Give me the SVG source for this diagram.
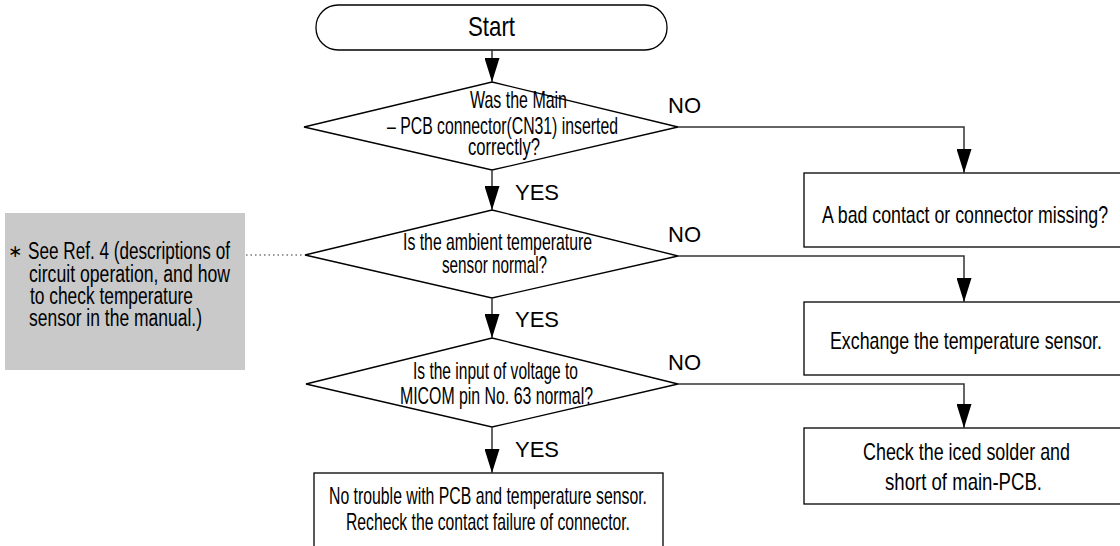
<svg xmlns="http://www.w3.org/2000/svg" width="1120" height="546" viewBox="0 0 1120 546">
<style>
.shape{fill:#fff;stroke:#000;stroke-width:1.3}
.t{font-family:"Liberation Sans",Arial,sans-serif;font-size:24px;fill:#000}
.n{font-family:"Liberation Sans",Arial,sans-serif;font-size:23px;fill:#000}
.lbl{font-family:"Liberation Sans",Arial,sans-serif;font-size:22px;fill:#000}
.con{fill:none;stroke:#333;stroke-width:1.5}
.dot{fill:none;stroke:#333;stroke-width:1.2;stroke-dasharray:1.5 3}
</style>
<defs>
<marker id="ah" markerUnits="userSpaceOnUse" markerWidth="24" markerHeight="15" refX="24" refY="7.5" orient="auto">
<path d="M0,0 L24,7.5 L0,15 z" fill="#000"/>
</marker>
</defs>
<rect width="1120" height="546" fill="#fff"/>

<g id="note">
<rect x="5" y="213" width="240" height="157" fill="#c9c9c9"/>
<text x="8" y="257" style="font-family:'DejaVu Sans',sans-serif;font-size:17px;fill:#000">∗</text>
<text class="n" x="28" y="259" textLength="202" lengthAdjust="spacingAndGlyphs">See Ref. 4 (descriptions of</text>
<text class="n" x="29" y="282" textLength="201" lengthAdjust="spacingAndGlyphs">circuit operation, and how</text>
<text class="n" x="30" y="304" textLength="163" lengthAdjust="spacingAndGlyphs">to check temperature</text>
<text class="n" x="29" y="326" textLength="173" lengthAdjust="spacingAndGlyphs">sensor in the manual.)</text>
</g>

<g id="start">
<rect class="shape" x="316" y="5" width="351" height="45" rx="22" ry="22"/>
<text x="468" y="36" style="font-family:'Liberation Sans',Arial,sans-serif;font-size:28px;fill:#000" textLength="47" lengthAdjust="spacingAndGlyphs">Start</text>
</g>

<g id="d1">
<polygon class="shape" points="492,82 678,127 492,170 304,127"/>
<text class="t" x="470" y="108" textLength="97" lengthAdjust="spacingAndGlyphs">Was the Main</text>
<text class="t" x="387" y="134" textLength="231" lengthAdjust="spacingAndGlyphs">– PCB connector(CN31) inserted</text>
<text class="t" x="468" y="155" textLength="72" lengthAdjust="spacingAndGlyphs">correctly?</text>
</g>

<g id="d2">
<polygon class="shape" points="492,210 678,256 492,298 305,255"/>
<text class="t" x="403" y="250" textLength="189" lengthAdjust="spacingAndGlyphs">Is the ambient temperature</text>
<text class="t" x="442" y="273" textLength="105" lengthAdjust="spacingAndGlyphs">sensor normal?</text>
</g>

<g id="d3">
<polygon class="shape" points="492,338 678,384 492,427 306,384"/>
<text class="t" x="413" y="379" textLength="165" lengthAdjust="spacingAndGlyphs">Is the input of voltage to</text>
<text class="t" x="400" y="404" textLength="193" lengthAdjust="spacingAndGlyphs">MICOM pin No. 63 normal?</text>
</g>

<g id="b1">
<rect class="shape" x="804" y="173" width="340" height="74"/>
<text class="t" x="822" y="223" textLength="286" lengthAdjust="spacingAndGlyphs">A bad contact or  connector missing?</text>
</g>

<g id="b2">
<rect class="shape" x="804" y="302" width="340" height="73"/>
<text class="t" x="830" y="349" textLength="272" lengthAdjust="spacingAndGlyphs">Exchange the temperature sensor.</text>
</g>

<g id="b3">
<rect class="shape" x="804" y="428" width="340" height="76"/>
<text class="t" x="863" y="460" textLength="207" lengthAdjust="spacingAndGlyphs">Check  the iced solder and</text>
<text class="t" x="885" y="490" textLength="157" lengthAdjust="spacingAndGlyphs">short of main-PCB.</text>
</g>

<g id="b4">
<rect class="shape" x="314" y="473" width="349" height="100"/>
<text class="t" x="329" y="504" textLength="318" lengthAdjust="spacingAndGlyphs">No trouble with PCB and temperature sensor.</text>
<text class="t" x="346" y="530" textLength="284" lengthAdjust="spacingAndGlyphs">Recheck the contact failure of connector.</text>
</g>

<g id="connectors">
<path class="con" d="M492,50 V82" marker-end="url(#ah)"/>
<path class="con" d="M492,170 V210" marker-end="url(#ah)"/>
<path class="con" d="M492,298 V338" marker-end="url(#ah)"/>
<path class="con" d="M492,427 V473" marker-end="url(#ah)"/>
<path class="con" d="M678,127 H964 V173" marker-end="url(#ah)"/>
<path class="con" d="M678,256 H964 V302" marker-end="url(#ah)"/>
<path class="con" d="M678,384 H964 V428" marker-end="url(#ah)"/>
<path class="dot" d="M246,255 H304"/>
<text class="lbl" x="515" y="200">YES</text>
<text class="lbl" x="515" y="327">YES</text>
<text class="lbl" x="515" y="457">YES</text>
<text class="lbl" x="668" y="113">NO</text>
<text class="lbl" x="668" y="242">NO</text>
<text class="lbl" x="668" y="370">NO</text>
</g>
</svg>
